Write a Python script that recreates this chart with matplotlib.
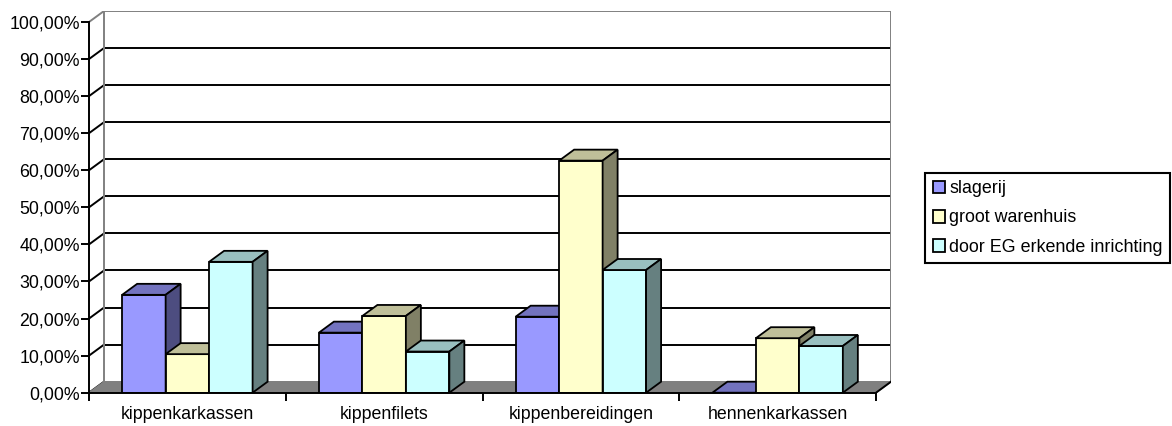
import matplotlib
matplotlib.use('Agg')
import matplotlib.pyplot as plt
from matplotlib.patches import Polygon, Patch
from matplotlib.ticker import FixedLocator, FuncFormatter, NullFormatter
import numpy as np

plt.rcParams['font.family'] = ['Liberation Sans', 'DejaVu Sans']

categories = ['kippenkarkassen', 'kippenfilets', 'kippenbereidingen', 'hennenkarkassen']
series_names = ['slagerij', 'groot warenhuis', 'door EG erkende inrichting']
slagerij = [26.4, 16.2, 20.5, 0.0]
groot_warenhuis = [10.4, 20.7, 62.6, 14.7]
door_eg = [35.3, 11.1, 33.1, 12.6]
yticks = [0, 10, 20, 30, 40, 50, 60, 70, 80, 90, 100]

front_cols = ['#9999FF', '#FFFFCC', '#CCFFFF']
top_cols = ['#7373BF', '#BFBF99', '#99BFBF']
side_cols = ['#4D4D80', '#808066', '#668080']

W, H = 1172, 426
fig = plt.figure(figsize=(W / 100, H / 100), dpi=100)
ax = fig.add_axes([89 / W, (H - 392.7) / H, 802 / W, 381.7 / H])
DX = 4 * 15 / 787
DY = 11 / 3.707
ax.set_xlim(0, 4 + DX)
ax.set_ylim(0, 100 + DY)

LW = 1.4
# back wall gridlines and side diagonals
for v in yticks:
    if 0 < v < 100:
        ax.plot([DX, 4 + DX], [v + DY, v + DY], color='black', lw=LW, zorder=1, solid_capstyle='butt')
    if v < 100:
        ax.plot([0, DX], [v, v + DY], color='black', lw=LW, zorder=1)
# wall borders (gray)
ax.plot([DX, DX, 4 + DX, 4 + DX], [DY, 100 + DY, 100 + DY, DY], color='#808080', lw=LW, zorder=1.5)
ax.plot([0, DX], [100, 100 + DY], color='#808080', lw=LW, zorder=1.5)
# floor
ax.add_patch(Polygon([(0, 0), (4, 0), (4 + DX, DY), (DX, DY)], closed=True,
                     facecolor='#808080', edgecolor='#808080', lw=1, zorder=2))
ax.plot([4, 4 + DX], [0, DY], color='black', lw=LW, zorder=2.5)

# bars
group = 0.663
w = group / 3
off = (1 - group) / 2
x = np.arange(len(categories))
for i, vals in enumerate([slagerij, groot_warenhuis, door_eg]):
    xs = x + off + i * w
    z = 5 + 3 * i
    ax.bar(xs, vals, width=w, align='edge', color=front_cols[i], edgecolor='black',
           linewidth=1.3, zorder=z)
    for x0, v in zip(xs, vals):
        x1 = x0 + w
        ax.add_patch(Polygon([(x0, v), (x1, v), (x1 + DX, v + DY), (x0 + DX, v + DY)], closed=True,
                             facecolor=top_cols[i], edgecolor='black', lw=1.3, zorder=z + 1,
                             joinstyle='miter'))
        ax.add_patch(Polygon([(x1, 0), (x1, v), (x1 + DX, v + DY), (x1 + DX, DY)], closed=True,
                             facecolor=side_cols[i], edgecolor='black', lw=1.3, zorder=z + 2,
                             joinstyle='miter'))

# axes
for s in ['top', 'right']:
    ax.spines[s].set_visible(False)
ax.spines['left'].set_bounds(0, 100)
ax.spines['bottom'].set_bounds(0, 4)
for s in ['left', 'bottom']:
    ax.spines[s].set_linewidth(LW)
    ax.spines[s].set_color('black')
    ax.spines[s].set_zorder(20)

ax.yaxis.set_major_locator(FixedLocator(yticks))
ax.yaxis.set_major_formatter(FuncFormatter(lambda v, p: f"{v:.2f}%".replace('.', ',')))
ax.tick_params(axis='y', which='major', direction='out', length=5.5, width=LW, pad=1,
               labelsize=12.8, colors='black')
ax.xaxis.set_major_locator(FixedLocator([0, 1, 2, 3, 4]))
ax.xaxis.set_major_formatter(NullFormatter())
ax.xaxis.set_minor_locator(FixedLocator(x + 0.5))
ax.set_xticklabels(categories, minor=True)
ax.tick_params(axis='x', which='major', direction='out', length=5.5, width=LW)
ax.tick_params(axis='x', which='minor', length=0, pad=9.5, labelsize=12.8)

handles = [Patch(facecolor=c, edgecolor='black', linewidth=1.3) for c in front_cols]
leg = fig.legend(handles, series_names, loc='upper left',
                 bbox_to_anchor=(925 / W, 1 - 172.7 / H), bbox_transform=fig.transFigure,
                 frameon=True, fancybox=False, framealpha=1, edgecolor='black',
                 handlelength=0.72, handleheight=0.72, handletextpad=0.22,
                 labelspacing=0.68, borderpad=0.42, borderaxespad=0, fontsize=12.9)
leg.get_frame().set_linewidth(1.5)

fig.savefig('out.png', dpi=100)
